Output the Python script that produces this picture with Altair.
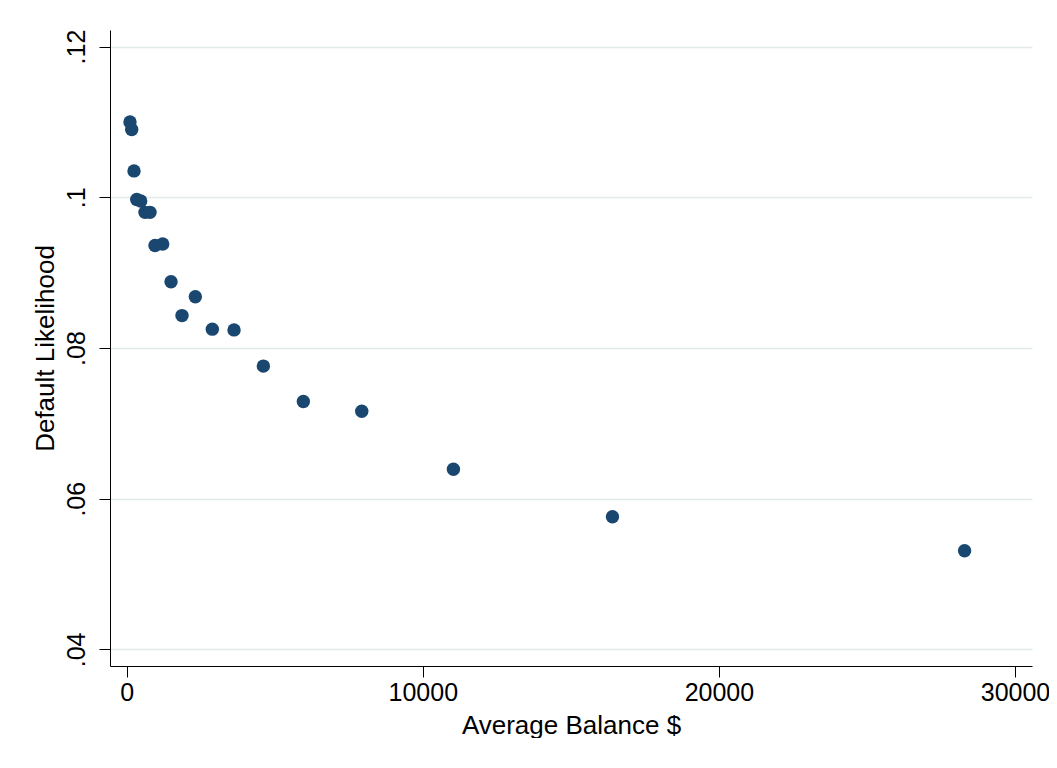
import altair as alt
import pandas as pd

# Values
balance = [111, 169, 247, 338, 473, 618, 787, 956, 1216, 1497,
           2318, 1868, 2892, 3625, 4615, 5966, 7939, 11034, 16405, 28297]
likelihood = [0.1100, 0.1090, 0.1035, 0.0997, 0.0995, 0.0980, 0.0980, 0.0936, 0.0938, 0.0888,
              0.0868, 0.0843, 0.0825, 0.0824, 0.0776, 0.0729, 0.0716, 0.0639, 0.0576, 0.0531]
x_ticks = [0, 10000, 20000, 30000]
y_ticks = [0.04, 0.06, 0.08, 0.10, 0.12]

df = pd.DataFrame({"balance": balance, "likelihood": likelihood})

FONT = "Liberation Sans"
NAVY = "#1a476f"

chart = alt.Chart(df).mark_circle(
    color=NAVY, opacity=1, size=180
).encode(
    x=alt.X(
        "balance:Q",
        scale=alt.Scale(domain=[-564, 30574], nice=False, zero=False),
        axis=alt.Axis(
            values=x_ticks, format="d", title="Average Balance $",
            grid=False, tickSize=11, labelPadding=3, titlePadding=7,
            labelFontSize=25, titleFontSize=26,
        ),
    ),
    y=alt.Y(
        "likelihood:Q",
        scale=alt.Scale(domain=[0.0378, 0.1222], nice=False, zero=False),
        axis=alt.Axis(
            values=y_ticks, title="Default Likelihood",
            labelExpr="replace(format(datum.value, '.2~f'), '0.', '.')",
            grid=True, gridColor="#e2eaeb", gridWidth=1.5,
            tickSize=11, labelAngle=270, labelAlign="center",
            labelBaseline="alphabetic", labelPadding=15, titlePadding=6,
            labelFontSize=25, titleFontSize=26,
        ),
    ),
).properties(
    width=922, height=636,
    autosize=alt.AutoSizeParams(type="none"),
    padding={"left": 102, "top": 22, "right": 17, "bottom": 72},
    background="white",
).configure_axis(
    domainColor="#000000", domainWidth=1, tickColor="#000000", tickWidth=1,
    labelColor="#000000", titleColor="#000000",
    labelFont=FONT, titleFont=FONT, titleFontWeight="normal",
    labelFlush=False, labelOverlap=False,
).configure_view(stroke=None)

chart.save("out.html", embed_options={"renderer": "svg", "actions": False})
